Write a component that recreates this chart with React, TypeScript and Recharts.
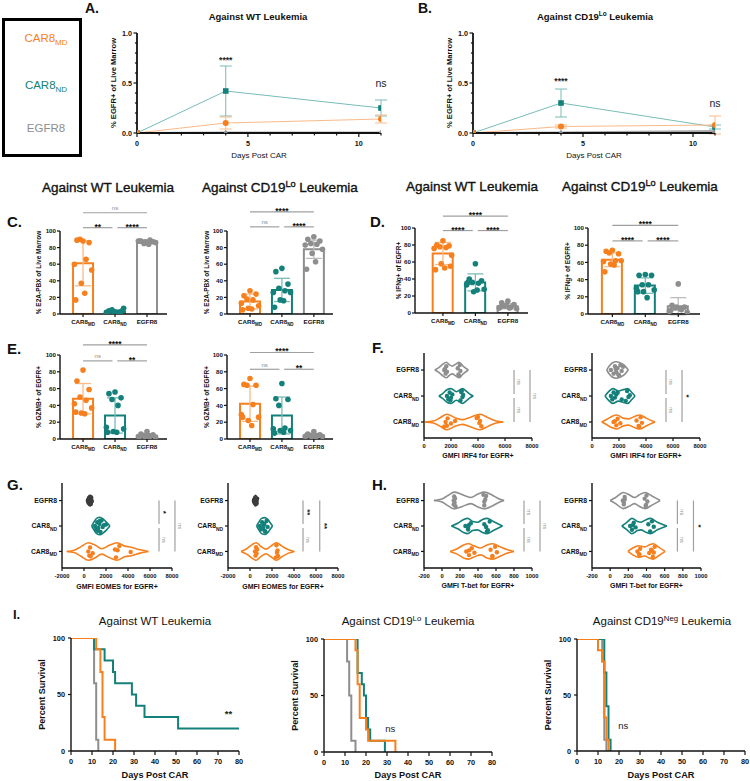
import React from 'react';
import {
  ComposedChart,
  LineChart,
  Line,
  Bar,
  Cell,
  Scatter,
  XAxis,
  YAxis,
  ErrorBar,
  ReferenceLine,
  ReferenceDot,
} from 'recharts';

const FONT = '"Liberation Sans", Arial, Helvetica, sans-serif';
const INK = '#111111';
const ORANGE = '#F7801E';
const TEAL = '#14807A';
const GRAY = '#8E8E8E';
const COLORS = [ORANGE, TEAL, GRAY];
const LIGHT = ['#F9BA8A', '#79BCB8', '#BDBDBD'];

// groups in plotting order
const groups = ['CAR8MD', 'CAR8ND', 'EGFR8'];

// ---------- A / B: % EGFR+ of live marrow over time ----------
const timeDays = [0, 4, 11];
const dayTicks = [0, 1, 2, 3, 4, 5, 6, 7, 8, 9, 10, 11];
const dayLabels = [0, 5, 10];
const fracTicks = [0, 0.1, 0.2, 0.3, 0.4, 0.5, 0.6, 0.7, 0.8, 0.9, 1];
const fracLabels = [0, 0.5, 1];

const wtMdEgfr = [0, 0.1, 0.14];
const wtMdEgfrSd = [0, 0.06, 0.04];
const wtNdEgfr = [0, 0.42, 0.25];
const wtNdEgfrSd = [0, 0.25, 0.08];
const wtCtlEgfr = [0, 0.004, 0.004];
const wtEgfrNotes = [
  { day: 4, y: 0.73, text: '****' },
  { day: 11, y: 0.5, text: 'ns' },
];

const loMdEgfr = [0, 0.065, 0.08];
const loMdEgfrSd = [0, 0.015, 0.09];
const loNdEgfr = [0, 0.3, 0.06];
const loNdEgfrSd = [0, 0.14, 0.02];
const loCtlEgfr = [0, 0.004, 0.02];
const loEgfrNotes = [
  { day: 4, y: 0.52, text: '****' },
  { day: 11, y: 0.3, text: 'ns' },
];

// ---------- C / D / E: bar + dot plots ----------
const pctTicks = [0, 20, 40, 60, 80, 100];

const cWtMeans = [61, 3, 87];
const cWtSd = [27, 2, 2];
const cWtMd = [88, 89, 86, 90, 66, 60, 53, 37, 25, 17];
const cWtNd = [2, 4, 3, 5, 1, 2, 7, 3, 2, 1, 4];
const cWtCtl = [86, 88, 87, 85, 89, 88, 86, 87, 84, 88];
const cWtComps: [number, number, string][] = [[0, 2, 'ns'], [0, 1, '**'], [1, 2, '****']];
const cWtLevels = [122, 104, 104];

const cLoMeans = [15, 29, 78];
const cLoSd = [9, 14, 11];
const cLoMd = [28, 22, 24, 18, 17, 13, 10, 7, 6, 5];
const cLoNd = [55, 51, 36, 31, 28, 26, 26, 17, 16, 8];
const cLoCtl = [93, 90, 88, 85, 84, 83, 78, 73, 63, 54];
const cLoComps: [number, number, string][] = [[0, 2, '****'], [0, 1, 'ns'], [1, 2, '****']];
const cLoLevels = [123, 105, 105];

const dWtMeans = [70, 36, 8];
const dWtSd = [13, 10, 3];
const dWtMd = [85, 80, 79, 78, 77, 76, 68, 58, 53, 51, 55];
const dWtNd = [58, 40, 38, 36, 35, 33, 28, 25, 27, 36];
const dWtCtl = [14, 12, 10, 8, 7, 6, 5, 9, 6, 7];
const dWtComps: [number, number, string][] = [[0, 2, '****'], [0, 1, '****'], [1, 2, '****']];
const dWtLevels = [114, 97, 97];

const dLoMeans = [63, 33, 9];
const dLoSd = [8, 9, 10];
const dLoMd = [74, 73, 70, 71, 62, 61, 62, 58, 57, 49];
const dLoNd = [46, 45, 45, 34, 34, 30, 28, 26, 19, 26];
const dLoCtl = [35, 10, 8, 7, 5, 3, 2, 8, 6, 4];
const dLoComps: [number, number, string][] = [[0, 2, '****'], [0, 1, '****'], [1, 2, '****']];
const dLoLevels = [103, 85, 85];

const eWtMeans = [48, 28, 4];
const eWtSd = [18, 21, 2];
const eWtMd = [82, 69, 59, 50, 46, 42, 37, 31, 30, 32];
const eWtNd = [56, 54, 49, 47, 40, 14, 12, 9, 8, 8];
const eWtCtl = [9, 6, 5, 4, 3, 3, 2, 2, 4, 3];
const eWtComps: [number, number, string][] = [[0, 2, '****'], [0, 1, 'ns'], [1, 2, '**']];
const eWtLevels = [112, 93, 93];

const eLoMeans = [42, 28, 4];
const eLoSd = [21, 22, 2];
const eLoMd = [72, 65, 64, 64, 41, 29, 26, 22, 16, 26];
const eLoNd = [66, 48, 47, 40, 13, 12, 10, 10, 8, 7];
const eLoCtl = [9, 6, 5, 4, 4, 3, 3, 2, 2, 4];
const eLoComps: [number, number, string][] = [[0, 2, '****'], [0, 1, 'ns'], [1, 2, '**']];
const eLoLevels = [103, 83, 83];

// ---------- F / G / H: violin plots (value, relative density) ----------
const irfTicks = [0, 2000, 4000, 6000, 8000];
const eomesTicks = [-2000, 0, 2000, 4000, 6000, 8000];
const tbetTicks = [-200, 0, 200, 400, 600, 800, 1000];

const fWtMdShape = [[70, 0], [700, 0.12], [1200, 0.55], [1700, 1], [2300, 0.55], [2850, 0.3], [3500, 0.65], [4150, 1], [4800, 0.5], [5350, 0.12], [5870, 0]];
const fWtNdShape = [[1100, 0], [1400, 0.35], [1700, 0.8], [2000, 0.95], [2400, 0.55], [2850, 0.95], [3150, 0.6], [3400, 0.25], [3650, 0]];
const fWtCtlShape = [[800, 0], [1100, 0.3], [1400, 0.75], [1650, 1], [1900, 0.65], [2100, 0.5], [2350, 0.75], [2600, 1], [2900, 0.5], [3280, 0]];
const fWtMdVals = [1600, 1700, 1750, 2000, 2300, 1500, 4000, 4100, 4150, 4250, 3900];
const fWtNdVals = [1700, 1800, 1900, 2000, 2100, 2700, 2800, 2850, 2900, 1950, 2750];
const fWtCtlVals = [1500, 1600, 1650, 1700, 2500, 2600, 2650, 2700, 1550, 2550];
const fWtSig: [number, number, string][] = [[2, 1, 'ns'], [1, 0, 'ns'], [2, 0, 'ns']];
const fWtSigX = [6670, 6670, 7850];

const fLoMdShape = [[720, 0], [1100, 0.35], [1500, 0.75], [1850, 0.9], [2300, 0.5], [2700, 0.4], [3200, 0.75], [3550, 0.9], [4000, 0.5], [4670, 0]];
const fLoNdShape = [[960, 0], [1200, 0.5], [1550, 0.95], [1950, 0.65], [2400, 0.85], [2650, 0.95], [2950, 0.45], [3190, 0]];
const fLoCtlShape = [[1090, 0], [1250, 0.45], [1500, 0.9], [1800, 1.05], [2100, 0.9], [2400, 0.6], [2690, 0]];
const fLoMdVals = [1600, 1800, 1900, 2100, 3300, 3500, 3600, 3700, 1700, 3450];
const fLoNdVals = [1400, 1500, 1600, 1700, 1800, 2500, 2600, 2700, 2800, 2200, 1900];
const fLoCtlVals = [1400, 1600, 1700, 1800, 1900, 2000, 2100, 2200, 1750, 1950, 2300];
const fLoSig: [number, number, string][] = [[2, 1, 'ns'], [1, 0, 'ns'], [2, 0, '*']];
const fLoSigX = [5480, 5480, 6670];

const gWtMdShape = [[-1570, 0], [-900, 0.15], [-300, 0.6], [400, 1.15], [1000, 0.85], [1600, 0.35], [2300, 0.8], [3000, 1.15], [3700, 0.7], [4300, 0.55], [5000, 0.25], [5850, 0]];
const gWtNdShape = [[700, 0], [900, 0.5], [1150, 1.0], [1450, 1.15], [1750, 0.9], [2050, 0.5], [2360, 0]];
const gWtCtlShape = [[250, 0], [400, 0.55], [550, 0.7], [700, 0.55], [800, 0]];
const gWtMdVals = [390, 480, 550, 790, 2820, 2910, 3210, 4240, 3050, 600];
const gWtNdVals = [1000, 1100, 1200, 1300, 1400, 1500, 1600, 1700, 1800, 1250, 1450, 2000];
const gWtCtlVals = [350, 400, 450, 500, 550, 600, 650, 700, 480, 520, 580];
const gWtSig: [number, number, string][] = [[2, 1, '*'], [1, 0, 'ns'], [2, 0, 'ns']];
const gWtSigX = [6820, 6820, 8270];

const gLoMdShape = [[-820, 0], [-300, 0.35], [200, 0.9], [550, 1.15], [1000, 0.65], [1450, 0.3], [1900, 0.7], [2400, 1.15], [2900, 0.7], [3450, 0.25], [4030, 0]];
const gLoNdShape = [[600, 0], [800, 0.5], [1050, 1.0], [1350, 1.1], [1650, 0.8], [1850, 0.4], [2050, 0]];
const gLoCtlShape = [[250, 0], [400, 0.55], [500, 0.7], [600, 0.55], [750, 0]];
const gLoMdVals = [450, 500, 550, 600, 650, 2350, 2400, 2450, 2500, 2550];
const gLoNdVals = [900, 1000, 1100, 1200, 1300, 1400, 1500, 1600, 1250, 1350];
const gLoCtlVals = [350, 400, 450, 500, 550, 600, 650, 420, 480, 520];
const gLoSig: [number, number, string][] = [[2, 1, '**'], [1, 0, 'ns'], [2, 0, '**']];
const gLoSigX = [4820, 4820, 6340];

const hWtMdShape = [[90, 0], [170, 0.35], [240, 0.85], [295, 1.0], [360, 0.7], [430, 0.45], [500, 0.85], [565, 1.0], [640, 0.65], [720, 0.25], [800, 0]];
const hWtNdShape = [[105, 0], [180, 0.4], [240, 0.85], [285, 1.0], [340, 0.6], [395, 0.5], [450, 0.85], [500, 1.0], [570, 0.6], [672, 0]];
const hWtCtlShape = [[-90, 0], [0, 0.2], [70, 0.7], [135, 1.1], [220, 0.8], [320, 0.4], [400, 0.85], [470, 1.1], [560, 0.7], [630, 0.25], [690, 0]];
const hWtMdVals = [270, 300, 330, 360, 540, 560, 590, 610, 300, 560];
const hWtNdVals = [260, 290, 320, 290, 470, 500, 530, 490, 300, 510];
const hWtCtlVals = [130, 130, 135, 140, 145, 150, 460, 470, 480, 470, 490];
const hWtSig: [number, number, string][] = [[2, 1, 'ns'], [1, 0, 'ns'], [2, 0, 'ns']];
const hWtSigX = [911, 911, 1089];

const hLoMdShape = [[195, 0], [250, 0.45], [310, 0.75], [380, 0.6], [430, 0.85], [475, 1.0], [530, 0.6], [605, 0]];
const hLoNdShape = [[128, 0], [180, 0.45], [240, 1.0], [300, 0.6], [340, 0.5], [390, 0.8], [440, 1.0], [520, 0.5], [624, 0]];
const hLoCtlShape = [[0, 0], [60, 0.4], [145, 1.05], [210, 0.75], [268, 0.4], [320, 0.75], [385, 1.05], [460, 0.6], [550, 0]];
const hLoMdVals = [300, 320, 330, 430, 450, 470, 490, 480, 460, 320];
const hLoNdVals = [220, 240, 260, 280, 420, 440, 460, 480, 250];
const hLoCtlVals = [140, 150, 160, 150, 380, 390, 400, 410, 160, 395];
const hLoSig: [number, number, string][] = [[2, 1, 'ns'], [1, 0, 'ns'], [2, 0, '*']];
const hLoSigX = [740, 740, 917];

// ---------- I: survival ----------
const survDayTicks = [0, 10, 20, 30, 40, 50, 60, 70, 80];
const survTicks = [0, 50, 100];

const iWtMdDays = [0, 12, 14, 15, 16, 21];
const iWtMdSurv = [100, 90, 70, 30, 10, 0];
const iWtNdDays = [0, 11, 16, 20, 21, 29, 31, 35, 51, 80];
const iWtNdSurv = [100, 90, 80, 70, 60, 50, 40, 30, 20, 20];
const iWtCtlDays = [0, 11, 12, 13];
const iWtCtlSurv = [100, 60, 10, 0];

const iLoMdDays = [0, 15, 16, 17, 20, 21, 34];
const iLoMdSurv = [100, 90, 60, 30, 20, 10, 0];
const iLoNdDays = [0, 16, 18, 19, 20, 21, 22, 29];
const iLoNdSurv = [100, 70, 60, 50, 30, 20, 10, 0];
const iLoCtlDays = [0, 11, 12, 13, 15];
const iLoCtlSurv = [100, 80, 50, 10, 0];

const iNegMdDays = [0, 10, 12, 13, 14, 15];
const iNegMdSurv = [100, 90, 80, 30, 10, 0];
const iNegNdDays = [0, 13, 14, 15, 16];
const iNegNdSurv = [100, 70, 40, 10, 0];
const iNegCtlDays = [0, 12, 13, 14];
const iNegCtlSurv = [100, 80, 10, 0];

// ---------- helpers ----------
type Plot = { x0: number; y0: number; x1: number; y1: number };
const PAD = { l: 50, t: 30, r: 40, b: 40 };
const AXIS = { stroke: INK, strokeWidth: 1.4 };
const SPREAD = [0, -0.7, 0.7, -0.35, 0.35, -1, 1, -0.2, 0.2, -0.85, 0.85, 0.5, -0.5];

function place(p: Plot) {
  return {
    style: { position: 'absolute' as const, left: p.x0 - PAD.l, top: p.y0 - PAD.t },
    width: p.x1 - p.x0 + PAD.l + PAD.r,
    height: p.y1 - p.y0 + PAD.t + PAD.b,
    margin: { top: PAD.t, right: PAD.r, bottom: 0, left: 0 },
  };
}

const num = (v: number) => String(v);
const labelStyle = (fs: number, bold: boolean) => ({
  textAnchor: 'middle' as const,
  fontSize: fs,
  fontWeight: bold ? 'bold' : 'normal',
  fontFamily: FONT,
  fill: INK,
});

const isIn = (labels: number[] | null, v: number) => !labels || labels.some((l) => Math.abs(l - v) < 1e-6);

function bottomTicks(fs: number, labels: number[] | null, fmt: (v: number) => string, len: number, gap: number) {
  return (p: any) => {
    const v = Number(p.payload.value);
    const major = isIn(labels, v);
    return (
      <g>
        <line x1={p.x} x2={p.x} y1={p.y} y2={p.y + (major ? len : len * 0.6)} stroke={INK} strokeWidth={1.2} />
        {major ? (
          <text x={p.x} y={p.y + len + gap + fs * 0.72} textAnchor="middle" fontSize={fs} fontWeight="bold" fontFamily={FONT} fill={INK}>
            {fmt(v)}
          </text>
        ) : null}
      </g>
    );
  };
}

function leftTicks(fs: number, labels: number[] | null, fmt: (v: number) => string, len: number, gap: number) {
  return (p: any) => {
    const v = Number(p.payload.value);
    const major = isIn(labels, v);
    return (
      <g>
        <line x1={p.x} x2={p.x - (major ? len : len * 0.6)} y1={p.y} y2={p.y} stroke={INK} strokeWidth={1.2} />
        {major ? (
          <text x={p.x - len - gap} y={p.y + fs * 0.36} textAnchor="end" fontSize={fs} fontWeight="bold" fontFamily={FONT} fill={INK}>
            {fmt(v)}
          </text>
        ) : null}
      </g>
    );
  };
}

function groupLabel(x: number, y: number, idx: number, fs: number, anchor: 'middle' | 'end') {
  const name = groups[idx] ?? '';
  const car = name.startsWith('CAR8');
  return (
    <text x={x} y={y} textAnchor={anchor} fontSize={fs} fontWeight="bold" fontFamily={FONT} fill={INK}>
      {car ? 'CAR8' : name}
      {car ? (
        <tspan fontSize={fs * 0.72} dy={fs * 0.32}>
          {name.slice(4)}
        </tspan>
      ) : null}
    </text>
  );
}

const blank = () => <g />;
const dotShape = (color: string, r: number) => (p: any) => <circle cx={p.cx} cy={p.cy} r={r} fill={color} />;

function widthAt(shape: number[][], v: number) {
  for (let i = 1; i < shape.length; i++) {
    const [a, wa] = shape[i - 1];
    const [b, wb] = shape[i];
    if (v >= a && v <= b) return wa + ((wb - wa) * (v - a)) / (b - a || 1);
  }
  return 0;
}

// ---------- panels ----------
function TimePanel({ plot, md, mdSd, nd, ndSd, ctl, notes, yLabelX }: any) {
  const f = place(plot);
  const rows = timeDays.map((d, i) => ({ day: d, md: md[i], mdSd: mdSd[i], nd: nd[i], ndSd: ndSd[i], ctl: ctl[i] }));
  return (
    <div style={f.style}>
      <ComposedChart width={f.width} height={f.height} margin={f.margin} data={rows}>
        <XAxis
          type="number"
          dataKey="day"
          domain={[0, 11]}
          allowDataOverflow
          ticks={dayTicks}
          interval={0}
          tickSize={0}
          tickMargin={0}
          tickLine={false}
          axisLine={{ stroke: INK, strokeWidth: 1.8 }}
          height={PAD.b}
          tick={bottomTicks(7.2, dayLabels, num, 4, 3.5)}
          label={{ value: 'Days Post CAR', position: 'insideBottom', offset: plot.y1 + PAD.b - 158, style: labelStyle(8, false) }}
        />
        <YAxis
          type="number"
          domain={[0, 1]}
          allowDataOverflow
          ticks={fracTicks}
          interval={0}
          width={PAD.l}
          tickSize={0}
          tickMargin={0}
          tickLine={false}
          axisLine={{ stroke: INK, strokeWidth: 1.8 }}
          tick={leftTicks(7.2, fracLabels, (v) => v.toFixed(1), 3.5, 1.5)}
          label={{
            value: '% EGFR+ of Live Marrow',
            angle: -90,
            position: 'insideLeft',
            offset: yLabelX - (plot.x0 - PAD.l),
            style: labelStyle(7.6, true),
          }}
        />
        <Line
          dataKey="ctl"
          stroke="#A8A8A8"
          strokeWidth={2}
          isAnimationActive={false}
          dot={(p: any) => (
            <path key={p.index} d={`M${p.cx},${p.cy - 3.2}L${p.cx + 3},${p.cy + 2}L${p.cx - 3},${p.cy + 2}Z`} fill={GRAY} />
          )}
        />
        <Line
          dataKey="nd"
          stroke={LIGHT[1]}
          strokeWidth={1}
          isAnimationActive={false}
          dot={(p: any) => <rect key={p.index} x={p.cx - 2.8} y={p.cy - 2.8} width={5.6} height={5.6} fill={TEAL} />}
        >
          <ErrorBar dataKey="ndSd" width={6} stroke={LIGHT[1]} strokeWidth={1} isAnimationActive={false} />
        </Line>
        <Line
          dataKey="md"
          stroke={LIGHT[0]}
          strokeWidth={1}
          isAnimationActive={false}
          dot={(p: any) => <circle key={p.index} cx={p.cx} cy={p.cy} r={3} fill={ORANGE} />}
        >
          <ErrorBar dataKey="mdSd" width={6} stroke={LIGHT[0]} strokeWidth={1} isAnimationActive={false} />
        </Line>
        {notes.map((n: any, k: number) => (
          <ReferenceDot
            key={k}
            x={n.day}
            y={n.y}
            r={0}
            fill="none"
            stroke="none"
            label={{
              value: n.text,
              position: 'center',
              style: { fontSize: n.text === 'ns' ? 10.5 : 8.6, fontWeight: n.text === 'ns' ? 'normal' : 'bold', fontFamily: FONT, fill: '#222' },
            }}
          />
        ))}
      </ComposedChart>
    </div>
  );
}

function BarPanel({ plot, xDomain, means, sds, dots, comps, levels, yLabel, yLabelX }: any) {
  const f = place(plot);
  const bars = means.map((m: number, i: number) => ({ x: i, mean: m }));
  const fs = 6.2;
  // category band padding that lines the bars up with the hidden numeric axis
  const w = plot.x1 - plot.x0;
  const unit = w / (xDomain[1] - xDomain[0]);
  const padL = -xDomain[0] * unit - unit / 2;
  const padR = w - padL - 3 * unit;
  return (
    <div style={f.style}>
      <ComposedChart width={f.width} height={f.height} margin={f.margin} data={bars}>
        <XAxis
          type="category"
          dataKey="x"
          padding={{ left: padL, right: padR }}
          interval={0}
          tickSize={0}
          tickMargin={0}
          tickLine={false}
          axisLine={AXIS}
          height={PAD.b}
          tick={(p: any) => (
            <g>
              <line x1={p.x} x2={p.x} y1={p.y} y2={p.y + 3} stroke={INK} strokeWidth={1.2} />
              {groupLabel(p.x, p.y + 5.5 + fs * 0.72, Number(p.payload.value), fs, 'middle')}
            </g>
          )}
        />
        <XAxis xAxisId="num" type="number" dataKey="x" domain={xDomain} allowDataOverflow hide />
        <YAxis
          type="number"
          dataKey="y"
          domain={[0, 100]}
          allowDataOverflow
          ticks={pctTicks}
          interval={0}
          width={PAD.l}
          tickSize={0}
          tickMargin={0}
          tickLine={false}
          axisLine={AXIS}
          tick={leftTicks(6.2, null, num, 3, 1)}
          label={{
            value: yLabel,
            angle: -90,
            position: 'insideLeft',
            offset: yLabelX - (plot.x0 - PAD.l),
            style: labelStyle(6.5, true),
          }}
        />
        <Bar dataKey="mean" barSize={20} fill="none" strokeWidth={2} isAnimationActive={false}>
          {bars.map((_: any, i: number) => (
            <Cell key={i} stroke={COLORS[i]} fill="none" />
          ))}
        </Bar>
        {means.map((m: number, i: number) => (
          <Scatter key={'e' + i} xAxisId="num" data={[{ x: i, y: m, sd: sds[i] }]} shape={blank} isAnimationActive={false}>
            <ErrorBar dataKey="sd" direction="y" width={8} stroke={LIGHT[i]} strokeWidth={1.3} isAnimationActive={false} />
          </Scatter>
        ))}
        {dots.map((vals: number[], i: number) => (
          <Scatter
            key={'d' + i}
            xAxisId="num"
            data={vals.map((v, j) => ({ x: i + SPREAD[j % SPREAD.length] * 0.27, y: v }))}
            shape={dotShape(COLORS[i], 2.8)}
            isAnimationActive={false}
          />
        ))}
        {comps.map(([a, b, text]: [number, number, string], k: number) => {
          const star = text !== 'ns';
          const xa = a + (a === 1 ? 0.07 : 0);
          const xb = b - (b === 1 ? 0.08 : 0);
          return (
            <ReferenceLine
              key={'c' + k}
              xAxisId="num"
              segment={[
                { x: xa, y: levels[k] },
                { x: xb, y: levels[k] },
              ]}
              stroke="#A0A0A0"
              strokeWidth={1.2}
              ifOverflow="visible"
              label={{
                value: text,
                position: 'top',
                offset: star ? -2 : 2.5,
                style: {
                  fontSize: star ? 8.5 : 6,
                  fontWeight: star ? 'bold' : 'normal',
                  fill: star ? INK : '#8A8A8A',
                  fontFamily: FONT,
                },
              }}
            />
          );
        })}
      </ComposedChart>
    </div>
  );
}

function ViolinPanel({ plot, xDomain, xTicks, yDomain, shapes, dots, sig, sigX, xLabel, labelBase, colors = COLORS }: any) {
  const f = place(plot);
  const half = 0.3;
  return (
    <div style={f.style}>
      <ComposedChart width={f.width} height={f.height} margin={f.margin}>
        <XAxis
          type="number"
          dataKey="v"
          domain={xDomain}
          allowDataOverflow
          ticks={xTicks}
          interval={0}
          tickSize={0}
          tickMargin={0}
          tickLine={false}
          axisLine={AXIS}
          height={PAD.b}
          tick={bottomTicks(5.8, null, num, 3, 3)}
          label={{ value: xLabel, position: 'insideBottom', offset: plot.y1 + PAD.b - labelBase, style: labelStyle(7, true) }}
        />
        <YAxis
          type="number"
          dataKey="r"
          domain={yDomain}
          allowDataOverflow
          ticks={[1, 2, 3]}
          interval={0}
          width={PAD.l}
          tickSize={0}
          tickMargin={0}
          tickLine={false}
          axisLine={AXIS}
          tick={(p: any) => (
            <g>
              <line x1={p.x} x2={p.x - 3} y1={p.y} y2={p.y} stroke={INK} strokeWidth={1.2} />
              {groupLabel(p.x - 5, p.y + 6.8 * 0.36, Number(p.payload.value) - 1, 6.8, 'end')}
            </g>
          )}
        />
        {shapes.map((shape: number[][], g: number) =>
          [1, -1].map((side) => (
            <Scatter
              key={`v${g}${side}`}
              data={shape.map(([v, w]) => ({ v, r: g + 1 + side * w * half }))}
              line={{ stroke: colors[g], strokeWidth: 1.6 }}
              lineJointType="monotoneX"
              shape={blank}
              isAnimationActive={false}
            />
          )),
        )}
        {dots.map((vals: number[], g: number) => (
          <Scatter
            key={'d' + g}
            data={vals.map((v, j) => ({ v, r: g + 1 + SPREAD[j % SPREAD.length] * widthAt(shapes[g], v) * half * 0.7 }))}
            shape={dotShape(colors[g], 2.2)}
            isAnimationActive={false}
          />
        ))}
        {sig.map(([a, b, text]: [number, number, string], k: number) => {
          const ra = a + 1;
          const rb = b + 1;
          const ya = ra + (a === 1 ? (rb > ra ? 0.08 : -0.08) : 0);
          const yb = rb + (b === 1 ? (ra > rb ? 0.08 : -0.08) : 0);
          const star = text !== 'ns';
          return (
            <ReferenceLine
              key={'s' + k}
              segment={[
                { x: sigX[k], y: ya },
                { x: sigX[k], y: yb },
              ]}
              stroke="#A0A0A0"
              strokeWidth={1.2}
              ifOverflow="visible"
              label={{
                value: text,
                position: 'right',
                angle: 90,
                offset: star ? 5 : 4.5,
                style: {
                  textAnchor: 'middle',
                  fontSize: star ? 8 : 5.5,
                  fontWeight: star ? 'bold' : 'normal',
                  fill: star ? INK : '#8A8A8A',
                  fontFamily: FONT,
                },
              }}
            />
          );
        })}
      </ComposedChart>
    </div>
  );
}

function SurvivalPanel({ plot, curves, note, yLabelX }: any) {
  const f = place(plot);
  return (
    <div style={f.style}>
      <LineChart width={f.width} height={f.height} margin={f.margin}>
        <XAxis
          type="number"
          dataKey="d"
          domain={[0, 80]}
          allowDataOverflow
          ticks={survDayTicks}
          interval={0}
          tickSize={0}
          tickMargin={0}
          tickLine={false}
          axisLine={AXIS}
          height={PAD.b}
          tick={bottomTicks(7.3, null, num, 4, 3.5)}
          label={{ value: 'Days Post CAR', position: 'insideBottom', offset: plot.y1 + PAD.b - 778, style: labelStyle(9.2, true) }}
        />
        <YAxis
          type="number"
          dataKey="s"
          domain={[0, 100]}
          allowDataOverflow
          ticks={survTicks}
          interval={0}
          width={PAD.l}
          tickSize={0}
          tickMargin={0}
          tickLine={false}
          axisLine={AXIS}
          tick={leftTicks(7.3, null, num, 3, 3)}
          label={{
            value: 'Percent Survival',
            angle: -90,
            position: 'insideLeft',
            offset: yLabelX - (plot.x0 - PAD.l),
            style: labelStyle(9, true),
          }}
        />
        {[2, 1, 0].map((g) => (
          <Line
            key={g}
            data={curves[g][0].map((d: number, i: number) => ({ d, s: curves[g][1][i] }))}
            dataKey="s"
            type="stepAfter"
            stroke={COLORS[g]}
            strokeWidth={2}
            dot={false}
            isAnimationActive={false}
          />
        ))}
        <ReferenceDot
          x={note.day}
          y={note.y}
          r={0}
          fill="none"
          stroke="none"
          label={{
            value: note.text,
            position: 'center',
            style: { fontSize: 9.5, fontWeight: note.text === 'ns' ? 'normal' : 'bold', fontFamily: FONT, fill: '#222' },
          }}
        />
      </LineChart>
    </div>
  );
}

function Overlay() {
  const legendY = [42, 89, 132];
  const letters: [string, number, number][] = [
    ['A.', 85, 13],
    ['B.', 418, 13],
    ['C.', 7, 227],
    ['D.', 370, 227],
    ['E.', 7, 354],
    ['F.', 372, 353],
    ['G.', 7, 490],
    ['H.', 372, 490],
    ['I.', 13, 619],
  ];
  const title = (x: number, y: number, fs: number, weight: 'bold' | 'heavy' | 'normal', sup: string | null) => (
    <text
      x={x}
      y={y}
      textAnchor="middle"
      fontSize={fs}
      fontWeight={weight === 'bold' ? 'bold' : 'normal'}
      fill={INK}
      stroke={weight === 'heavy' ? INK : 'none'}
      strokeWidth={weight === 'heavy' ? 0.35 : 0}
    >
      {sup ? 'Against CD19' : 'Against WT Leukemia'}
      {sup ? (
        <>
          <tspan dy={-fs * 0.38} fontSize={fs * 0.68}>
            {sup}
          </tspan>
          <tspan dy={fs * 0.38}> Leukemia</tspan>
        </>
      ) : null}
    </text>
  );
  return (
    <svg width={750} height={781} style={{ position: 'absolute', left: 0, top: 0 }} fontFamily={FONT}>
      <rect x={3.5} y={19.5} width={77} height={136} fill="none" stroke="#000" strokeWidth={3} />
      {groups.map((g, i) => (
        <text key={g} x={46} y={legendY[i]} textAnchor="middle" fontSize={11.5} fill={COLORS[i]}>
          {g.startsWith('CAR8') ? 'CAR8' : g}
          {g.startsWith('CAR8') ? (
            <tspan fontSize={8} dy={3}>
              {g.slice(4)}
            </tspan>
          ) : null}
        </text>
      ))}
      {letters.map(([t, x, y]) => (
        <text key={t} x={x} y={y} fontSize={t === 'I.' ? 13 : t === 'A.' || t === 'B.' ? 14 : 15} fontWeight="bold" fill={INK}>
          {t}
        </text>
      ))}
      {title(258, 20, 9.5, 'bold', null)}
      {title(595, 20, 9.5, 'bold', 'Lo')}
      {title(108, 192, 13.5, 'heavy', null)}
      {title(280, 192, 13.5, 'heavy', 'Lo')}
      {title(472, 191, 13.5, 'heavy', null)}
      {title(640, 191, 13.5, 'heavy', 'Lo')}
      {title(155, 625, 11.5, 'normal', null)}
      {title(408, 625, 11.5, 'normal', 'Lo')}
      {title(662, 625, 11.5, 'normal', 'Neg')}
    </svg>
  );
}

export default function App() {
  const fRows: [number, number] = [0.385, 3.654];
  const ghRows: [number, number] = [0.35, 3.69];
  return (
    <div style={{ position: 'absolute', left: 0, top: 0, width: 750, height: 781, overflow: 'hidden', background: '#fff', fontFamily: FONT }}>
      <Overlay />

      <TimePanel plot={{ x0: 137, y0: 33, x1: 381, y1: 133 }} md={wtMdEgfr} mdSd={wtMdEgfrSd} nd={wtNdEgfr} ndSd={wtNdEgfrSd} ctl={wtCtlEgfr} notes={wtEgfrNotes} yLabelX={113} />
      <TimePanel plot={{ x0: 473, y0: 33, x1: 715, y1: 133 }} md={loMdEgfr} mdSd={loMdEgfrSd} nd={loNdEgfr} ndSd={loNdEgfrSd} ctl={loCtlEgfr} notes={loEgfrNotes} yLabelX={449} />

      <BarPanel plot={{ x0: 60, y0: 231, x1: 167, y1: 314 }} xDomain={[-0.72, 2.625]} means={cWtMeans} sds={cWtSd} dots={[cWtMd, cWtNd, cWtCtl]} comps={cWtComps} levels={cWtLevels} yLabel="% E2A-PBX of Live Marrow" yLabelX={38.5} />
      <BarPanel plot={{ x0: 227, y0: 231, x1: 333, y1: 314 }} xDomain={[-0.72, 2.6]} means={cLoMeans} sds={cLoSd} dots={[cLoMd, cLoNd, cLoCtl]} comps={cLoComps} levels={cLoLevels} yLabel="% E2A-PBX of Live Marrow" yLabelX={207} />
      <BarPanel plot={{ x0: 415, y0: 228, x1: 528, y1: 313 }} xDomain={[-0.86, 2.62]} means={dWtMeans} sds={dWtSd} dots={[dWtMd, dWtNd, dWtCtl]} comps={dWtComps} levels={dWtLevels} yLabel="% IFNg+ of EGFR+" yLabelX={399} />
      <BarPanel plot={{ x0: 588, y0: 228, x1: 700, y1: 314 }} xDomain={[-0.74, 2.66]} means={dLoMeans} sds={dLoSd} dots={[dLoMd, dLoNd, dLoCtl]} comps={dLoComps} levels={dLoLevels} yLabel="% IFNg+ of EGFR+" yLabelX={568} />
      <BarPanel plot={{ x0: 60, y0: 355, x1: 167, y1: 439 }} xDomain={[-0.72, 2.625]} means={eWtMeans} sds={eWtSd} dots={[eWtMd, eWtNd, eWtCtl]} comps={eWtComps} levels={eWtLevels} yLabel="% GZMB+ of EGFR+" yLabelX={38.5} />
      <BarPanel plot={{ x0: 227, y0: 355, x1: 333, y1: 439 }} xDomain={[-0.72, 2.6]} means={eLoMeans} sds={eLoSd} dots={[eLoMd, eLoNd, eLoCtl]} comps={eLoComps} levels={eLoLevels} yLabel="% GZMB+ of EGFR+" yLabelX={207} />

      <ViolinPanel plot={{ x0: 424, y0: 353, x1: 532, y1: 438 }} xDomain={[0, 8000]} xTicks={irfTicks} yDomain={fRows} shapes={[fWtMdShape, fWtNdShape, fWtCtlShape]} dots={[fWtMdVals, fWtNdVals, fWtCtlVals]} sig={fWtSig} sigX={fWtSigX} xLabel="GMFI IRF4 for EGFR+" labelBase={458} />
      <ViolinPanel plot={{ x0: 592, y0: 353, x1: 700, y1: 438 }} xDomain={[0, 8000]} xTicks={irfTicks} yDomain={fRows} shapes={[fLoMdShape, fLoNdShape, fLoCtlShape]} dots={[fLoMdVals, fLoNdVals, fLoCtlVals]} sig={fLoSig} sigX={fLoSigX} xLabel="GMFI IRF4 for EGFR+" labelBase={458} />
      <ViolinPanel plot={{ x0: 62, y0: 483, x1: 172, y1: 568 }} xDomain={[-2000, 8000]} xTicks={eomesTicks} yDomain={ghRows} shapes={[gWtMdShape, gWtNdShape, gWtCtlShape]} dots={[gWtMdVals, gWtNdVals, gWtCtlVals]} sig={gWtSig} sigX={gWtSigX} xLabel="GMFI EOMES for EGFR+" labelBase={589} colors={[ORANGE, TEAL, '#3C3C3C']} />
      <ViolinPanel plot={{ x0: 228, y0: 483, x1: 338, y1: 568 }} xDomain={[-2000, 8000]} xTicks={eomesTicks} yDomain={ghRows} shapes={[gLoMdShape, gLoNdShape, gLoCtlShape]} dots={[gLoMdVals, gLoNdVals, gLoCtlVals]} sig={gLoSig} sigX={gLoSigX} xLabel="GMFI EOMES for EGFR+" labelBase={589} colors={[ORANGE, TEAL, '#3C3C3C']} />
      <ViolinPanel plot={{ x0: 424, y0: 483, x1: 532, y1: 568 }} xDomain={[-200, 1000]} xTicks={tbetTicks} yDomain={ghRows} shapes={[hWtMdShape, hWtNdShape, hWtCtlShape]} dots={[hWtMdVals, hWtNdVals, hWtCtlVals]} sig={hWtSig} sigX={hWtSigX} xLabel="GMFI T-bet for EGFR+" labelBase={588} />
      <ViolinPanel plot={{ x0: 592, y0: 483, x1: 701, y1: 568 }} xDomain={[-200, 1000]} xTicks={tbetTicks} yDomain={ghRows} shapes={[hLoMdShape, hLoNdShape, hLoCtlShape]} dots={[hLoMdVals, hLoNdVals, hLoCtlVals]} sig={hLoSig} sigX={hLoSigX} xLabel="GMFI T-bet for EGFR+" labelBase={588} />

      <SurvivalPanel plot={{ x0: 71, y0: 638, x1: 239, y1: 751 }} curves={[[iWtMdDays, iWtMdSurv], [iWtNdDays, iWtNdSurv], [iWtCtlDays, iWtCtlSurv]]} note={{ day: 75, y: 33, text: '**' }} yLabelX={42} />
      <SurvivalPanel plot={{ x0: 324, y0: 639, x1: 492, y1: 752 }} curves={[[iLoMdDays, iLoMdSurv], [iLoNdDays, iLoNdSurv], [iLoCtlDays, iLoCtlSurv]]} note={{ day: 31.5, y: 21, text: 'ns' }} yLabelX={295} />
      <SurvivalPanel plot={{ x0: 577, y0: 639, x1: 745, y1: 751 }} curves={[[iNegMdDays, iNegMdSurv], [iNegNdDays, iNegNdSurv], [iNegCtlDays, iNegCtlSurv]]} note={{ day: 22, y: 23, text: 'ns' }} yLabelX={548} />
    </div>
  );
}
